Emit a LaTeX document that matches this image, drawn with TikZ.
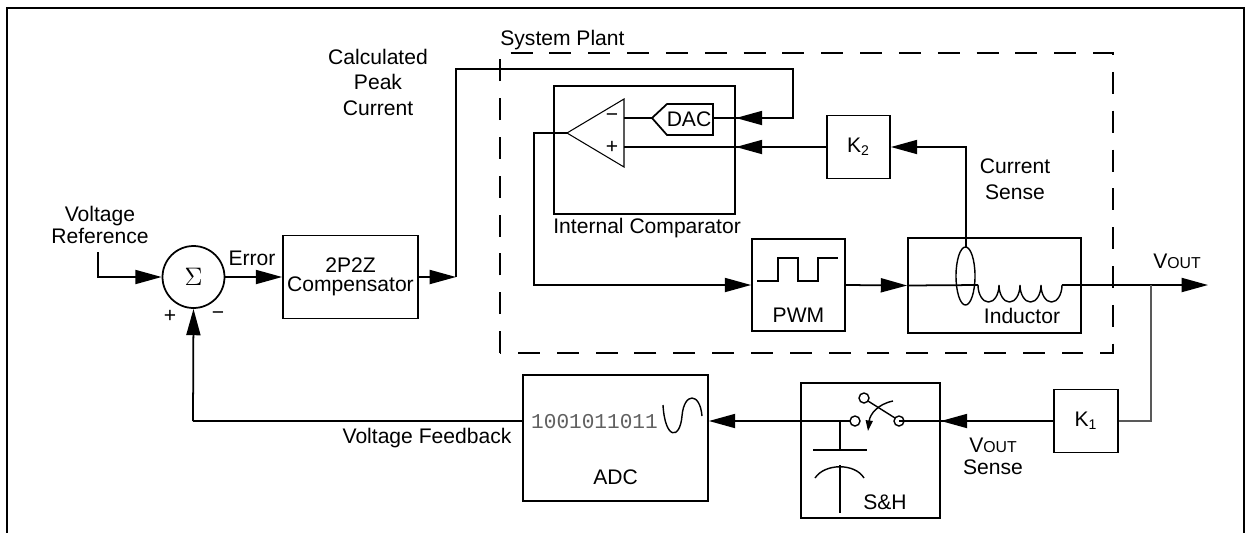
\documentclass[tikz,border=0pt]{standalone}
\usepackage{fontspec}
\setmainfont{Liberation Sans}
\setmonofont{Liberation Mono}
\usetikzlibrary{arrows.meta,positioning}

\tikzset{
	blk/.style={draw,line width=1pt,inner sep=0pt},
	lbl/.style={inner sep=0pt,font=\fontsize{12}{14}\selectfont,align=center},
	wire/.style={line width=1pt},
	sig/.style={wire,-{Triangle[length=15pt,width=8pt]}},
	plant/.style={line width=1.2pt,dash pattern=on 12.5pt off 9.6pt},
}
\newcommand{\vout}{V{\fontsize{9}{10}\selectfont OUT}}

\begin{document}
\begin{tikzpicture}[x=0.02cm,y=-0.02cm]
\useasboundingbox (0,0) rectangle (1251,532);
% frame
\draw[line width=1.5pt] (7,540) -- (7,8) -- (1244,8) -- (1244,540);

% blocks
\node[blk,circle,minimum size=1.24cm,font=\fontsize{15}{16}\selectfont] (sum) at (193.5,277) {$\Sigma$};
\node[blk,minimum width=2.7cm,minimum height=1.66cm] (comp) at (350.5,277) {};
\node[lbl,font=\fontsize{12}{11}\selectfont] at (comp) {2P2Z\\Compensator};
\node[blk,minimum width=3.62cm,minimum height=2.56cm] (cmpbox) at (644.5,150) {};
\node[blk,minimum width=1.26cm,minimum height=1.26cm] (k2) at (858.5,147) {};
\node[lbl] at (k2) {K\textsubscript{2}};
\node[blk,minimum width=1.86cm,minimum height=1.84cm] (pwm) at (798.5,285) {};
\node[blk,minimum width=3.46cm,minimum height=1.9cm] (ind) at (994.5,285.5) {};
\node[blk,minimum width=1.28cm,minimum height=1.26cm] (k1) at (1086,421) {};
\node[lbl] at (k1) {K\textsubscript{1}};
\node[blk,minimum width=2.78cm,minimum height=2.7cm] (sh) at (870.5,450.5) {};
\node[blk,minimum width=3.7cm,minimum height=2.52cm] (adc) at (615.5,438) {};

% system plant
\draw[plant] (500,353) -- (500,53) -- (1113,53) -- (1113,353) -- cycle;
\node[lbl,anchor=west] (plantlbl) at (500,40) {System Plant};

% comparator and DAC
\coordinate (opout) at (567,133);
\coordinate (opm) at (624,118);
\coordinate (opp) at (624,147);
\draw[wire,line width=0.6pt] (opout) -- (624,99) -- (624,167) -- cycle;
\node[lbl] at (612,118) {−};
\node[lbl] at (612,147) {+};
\coordinate (dacin) at (652,118);
\coordinate (dacout) at (713,119.5);
\draw[wire] (dacin) -- (667,104) -- (713,104) -- (713,135) -- (667,135) -- cycle;
\node[lbl] (dac) at (689,119.5) {DAC};
\draw[wire] (opm) -- (dacin);
\node[lbl,anchor=west] (cmplbl) at (553,228) {Internal Comparator};

% PWM waveform
\draw[wire,line width=0.8pt] (757,281) -- ++(21,0) -- ++(0,-23) -- ++(20,0) -- ++(0,23) -- ++(20,0) -- ++(0,-23) -- ++(20,0);
\node[lbl] at (798.5,315) {PWM};

% inductor with current sense loop
\coordinate (coilin) at (978,285);
\coordinate (coilout) at (1062,285);
\draw[wire] (ind.west) -- (coilin);
\draw[wire,line width=0.8pt] (coilin) \foreach \i in {1,...,4}{ arc (180:0:10.5 and 17)};
\draw[line width=0.8pt] (965.5,276) ellipse (9.5 and 29);
\coordinate (cs) at (966,247);
\node[lbl] at (1022,316) {Inductor};

% sample and hold
\coordinate (swr) at (899,421);
\coordinate (swl) at (855,421);
\coordinate (swt) at (864,398);
\draw[line width=0.8pt] (swr) circle (5) (swl) circle (5) (swt) circle (5);
\draw[line width=0.8pt] (868,401) -- (895,418);
\draw[line width=0.8pt,-{Triangle[length=6pt,width=4pt]}] (893,401) .. controls (878,404) and (870,414) .. (868,431);
\draw[wire] (swl) ++(-5,0) -- (840,421) -- (840,450);
\draw[wire] (813,450) -- (867,450);
\draw[line width=0.8pt] (815,478) .. controls (825,463) and (855,463) .. (864,478);
\draw[wire] (840,465) -- (840,513);
\node[lbl] at (885,502) {S\&H};

% ADC
\node[lbl,text=gray!75!black] at (594.5,422) {\ttfamily 1001011011};
\draw[line width=0.8pt] (663,405) .. controls (665,440) and (680,440) .. (682,416) .. controls (684,392) and (700,392) .. (702,416);
\node[lbl] at (615.5,477) {ADC};

% signals
\coordinate (vref) at (98,252);
\draw[sig] (vref) |- (sum.west);
\node[lbl,font=\fontsize{12}{11}\selectfont] at (100,225) {Voltage\\Reference};
\draw[sig] (sum.east) -- (comp.west);
\node[lbl] at (252,258) {Error};
\node[lbl] at (170,316) {+};
\node[lbl] at (218,316) {−};

\coordinate (pk) at (456,277);
\draw[sig] (comp.east) -- (pk);
\draw[wire] (pk) -- (456,69) -- (793,69) -- (793,118) -- (dacout |- 0,118);
\draw[sig] (793,118) -- (cmpbox.east |- 0,118);
\node[lbl,font=\fontsize{12}{14.5}\selectfont] at (378,82) {Calculated\\Peak\\Current};

\draw[wire] (k2.west) -- (opp);
\draw[sig] (k2.west) -- (cmpbox.east |- k2.west);

\draw[sig] (cs) |- (k2.east);
\node[lbl,font=\fontsize{12}{15}\selectfont] at (1015,179) {Current\\Sense};

\draw[sig] (opout) -- (534,133) |- (pwm.west);
\draw[sig] (pwm.east) -- (ind.west);

\coordinate (voutend) at (1208,285);
\coordinate (tap) at (1151,285);
\draw[sig] (coilout) -- (voutend);
\node[lbl] at (1177,261) {\vout};
\draw[line width=0.7pt,gray!70!black] (tap) |- (k1.east);

\draw[wire] (k1.west) -- (swr);
\draw[sig] (k1.west) -- (sh.east |- k1.west);
\node[lbl,font=\fontsize{12}{12.5}\selectfont] at (993,456) {\vout\\Sense};

\draw[wire] (swl) ++(-5,0) -- (sh.west |- swl);
\draw[sig] (sh.west |- swl) -- (adc.east |- swl);

\coordinate (fb) at (193,421);
\draw[wire] (adc.west |- swl) -- (fb);
\draw[sig] (fb) -- (sum.south);
\node[lbl] at (427,438) {Voltage Feedback};
\end{tikzpicture}
\end{document}
